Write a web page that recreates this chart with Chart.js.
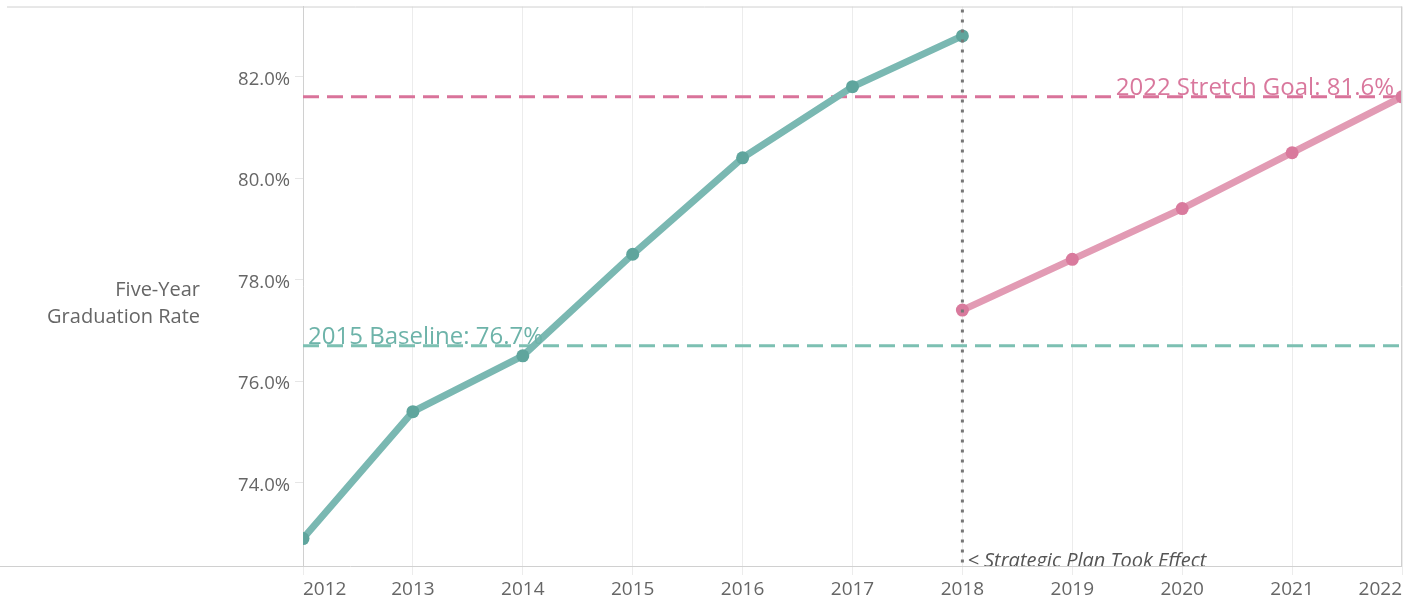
<!DOCTYPE html>
<html>
<head>
<meta charset="utf-8">
<script src="https://cdn.jsdelivr.net/npm/chart.js@4"></script>
<style>
  html, body { margin: 0; padding: 0; background: #fff; }
  #wrap { width: 1419px; height: 609px; }
</style>
</head>
<body>
<div id="wrap"><canvas id="rate-chart"></canvas></div>
<script>
// data
const actualYears = [2012, 2013, 2014, 2015, 2016, 2017, 2018];
const actualRates = [72.9, 75.4, 76.5, 78.5, 80.4, 81.8, 82.8];
const goalYears = [2018, 2019, 2020, 2021, 2022];
const goalRates = [77.4, 78.4, 79.4, 80.5, 81.6];
const yearTicks = [2012, 2013, 2014, 2015, 2016, 2017, 2018, 2019, 2020, 2021, 2022];
const rateTicks = [74, 76, 78, 80, 82];
const baselineRate = 76.7;
const stretchGoal = 81.6;
const planYear = 2018;

const teal = '#7ab8b2';
const tealDot = '#5fa59d';
const pink = '#e29bb4';
const pinkDot = '#d97a9d';
const tickColor = '#666';
const font = '"Open Sans", "Noto Sans", sans-serif';

const toPoints = (xs, ys) => xs.map((x, i) => ({ x: x, y: ys[i] }));
const firstYear = yearTicks[0];
const lastYear = yearTicks[yearTicks.length - 1];

// extra drawing: frame, y title, reference labels, plan line
const extras = {
  id: 'extras',
  afterDatasetsDraw(chart) {
    const { ctx, chartArea: a, scales } = chart;
    const xs = scales.x, ys = scales.y;
    ctx.save();

    // frame lines
    ctx.strokeStyle = '#d0d0d0';
    ctx.lineWidth = 1;
    ctx.beginPath();
    ctx.moveTo(7, a.top + 0.5); ctx.lineTo(a.right, a.top + 0.5);
    ctx.moveTo(a.right - 0.5, a.top); ctx.lineTo(a.right - 0.5, a.bottom);
    ctx.moveTo(0, a.bottom + 0.5); ctx.lineTo(a.right, a.bottom + 0.5);
    ctx.stroke();

    // y title
    ctx.fillStyle = tickColor;
    ctx.font = '20px ' + font;
    ctx.textAlign = 'right';
    ctx.textBaseline = 'middle';
    ctx.fillText('Five-Year', 200, 290);
    ctx.fillText('Graduation Rate', 200, 317);

    // reference labels
    ctx.font = '24px ' + font;
    ctx.textBaseline = 'alphabetic';
    ctx.textAlign = 'left';
    ctx.fillStyle = '#6db3a9';
    ctx.fillText('2015 Baseline: 76.7%', a.left + 5, ys.getPixelForValue(baselineRate) - 2);
    ctx.textAlign = 'right';
    ctx.fillStyle = '#d9789d';
    ctx.fillText('2022 Stretch Goal: 81.6%', a.right - 8, ys.getPixelForValue(stretchGoal) - 2);

    // plan note, clipped to the plot
    const px = xs.getPixelForValue(planYear);
    ctx.save();
    ctx.beginPath();
    ctx.rect(a.left, a.top, a.right - a.left, a.bottom - a.top);
    ctx.clip();
    ctx.font = 'italic 20px ' + font;
    ctx.textAlign = 'left';
    ctx.fillStyle = '#555';
    ctx.fillText('< Strategic Plan Took Effect', px + 5, a.bottom + 1);
    ctx.restore();

    // dotted plan line
    ctx.strokeStyle = '#777';
    ctx.lineWidth = 3;
    ctx.setLineDash([3, 7]);
    ctx.beginPath();
    ctx.moveTo(px, a.top + 3);
    ctx.lineTo(px, a.bottom);
    ctx.stroke();
    ctx.restore();
  }
};

new Chart(document.getElementById('rate-chart'), {
  type: 'line',
  data: {
    datasets: [
      {
        label: 'Goal',
        data: toPoints([firstYear, lastYear], [stretchGoal, stretchGoal]),
        borderColor: '#d9739a',
        borderWidth: 3,
        borderDash: [16, 8],
        pointRadius: 0,
        order: 3
      },
      {
        label: 'Baseline',
        data: toPoints([firstYear, lastYear], [baselineRate, baselineRate]),
        borderColor: '#7cc0b2',
        borderWidth: 3,
        borderDash: [16, 8],
        pointRadius: 0,
        order: 3
      },
      {
        label: 'Actual',
        data: toPoints(actualYears, actualRates),
        borderColor: teal,
        borderWidth: 7,
        pointRadius: 6.5,
        pointBackgroundColor: tealDot,
        pointBorderWidth: 0,
        order: 1
      },
      {
        label: 'Projected',
        data: toPoints(goalYears, goalRates),
        borderColor: pink,
        borderWidth: 7,
        pointRadius: 6.5,
        pointBackgroundColor: pinkDot,
        pointBorderWidth: 0,
        order: 2
      }
    ]
  },
  options: {
    responsive: true,
    maintainAspectRatio: false,
    animation: false,
    layout: { padding: { left: 0, right: 17, top: 5, bottom: 0 } },
    plugins: { legend: { display: false }, tooltip: { enabled: false } },
    scales: {
      x: {
        type: 'linear',
        min: firstYear,
        max: lastYear,
        afterBuildTicks: s => { s.ticks = yearTicks.map(v => ({ value: v })); },
        afterFit: s => { s.height = 43; s.paddingLeft = 0; s.paddingRight = 0; },
        grid: { color: '#ececec', lineWidth: 1, tickLength: 9 },
        border: { display: false },
        ticks: {
          align: 'inner',
          color: tickColor,
          font: { family: font, size: 19 },
          padding: 3,
          maxRotation: 0,
          callback: v => String(v)
        }
      },
      y: {
        min: 72.36,
        max: 83.38,
        afterBuildTicks: s => { s.ticks = rateTicks.map(v => ({ value: v })); },
        afterFit: s => { s.width = 303; s.paddingTop = 0; s.paddingBottom = 0; },
        grid: { drawOnChartArea: false, color: '#e6e6e6', tickLength: 8 },
        border: { color: '#d0d0d0' },
        ticks: {
          color: tickColor,
          font: { family: font, size: 18.5 },
          padding: 5,
          labelOffset: 3,
          callback: v => v.toFixed(1) + '%'
        }
      }
    }
  },
  plugins: [extras]
});
</script>
</body>
</html>
